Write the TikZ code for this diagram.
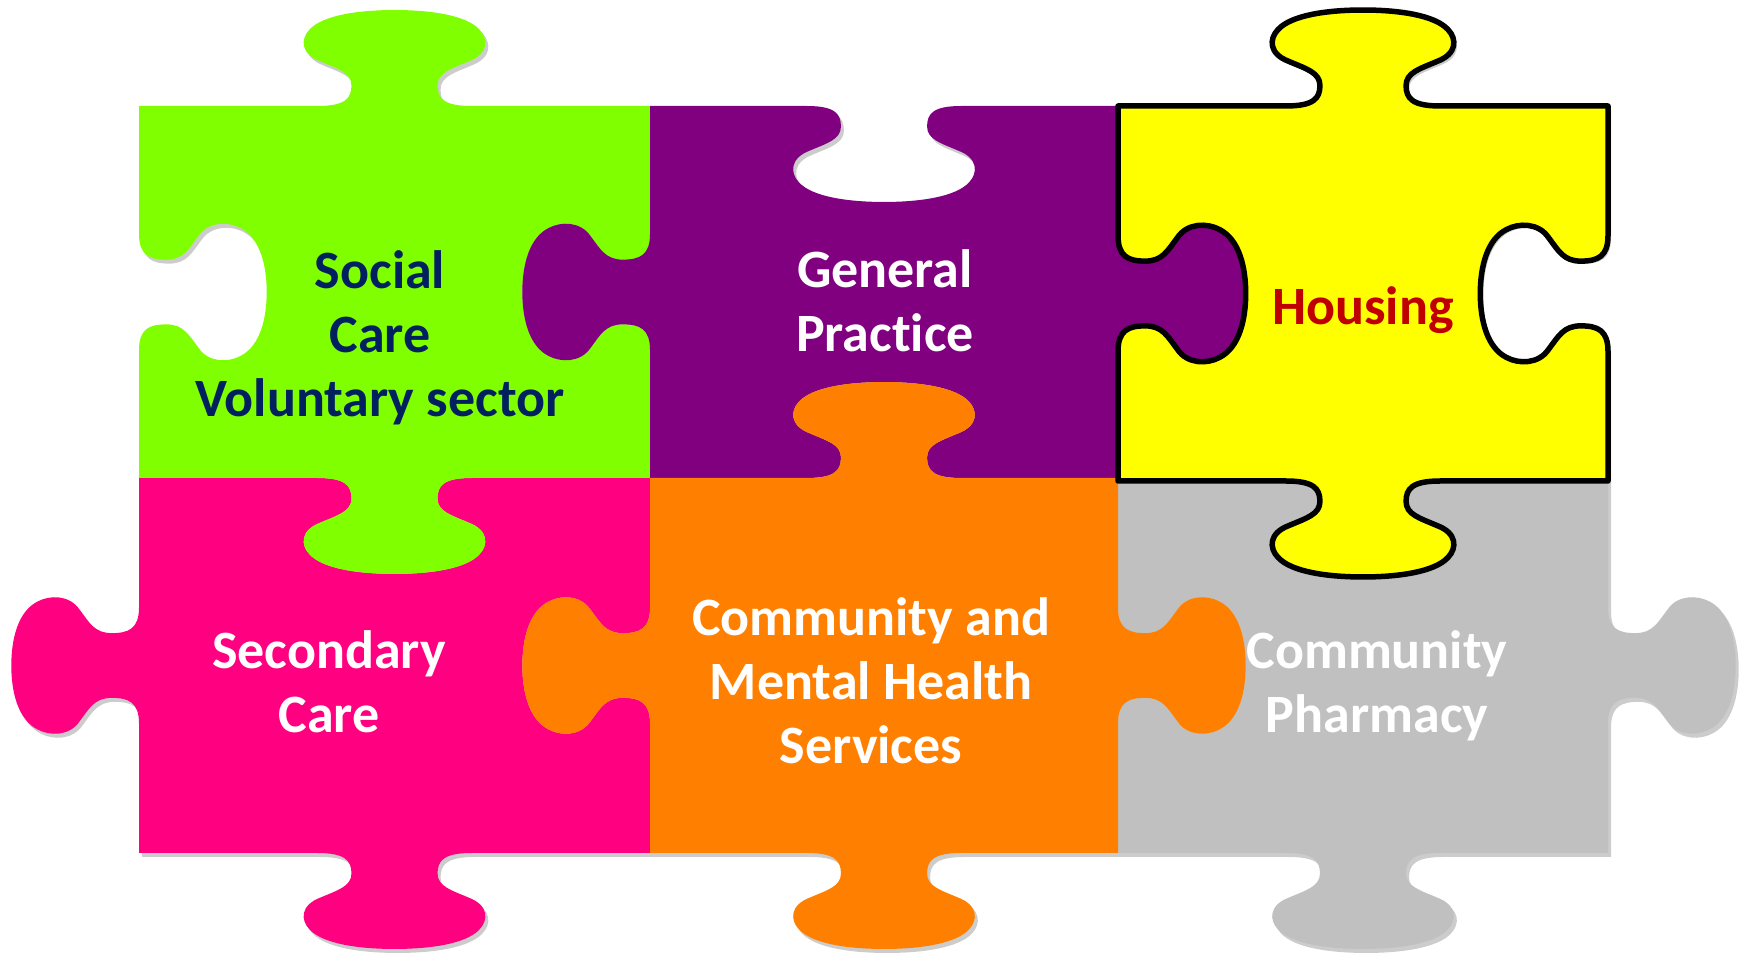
\documentclass[tikz,border=0pt]{standalone}
\usepackage{fontspec}
\setmainfont{Carlito}[RawFeature={-liga;-clig;-calt;-dlig}]

\definecolor{scgreen}{HTML}{80FF00}
\definecolor{gppurple}{HTML}{800080}
\definecolor{hsyellow}{HTML}{FFFF00}
\definecolor{scpink}{HTML}{FF0080}
\definecolor{cmorange}{HTML}{FF8000}
\definecolor{cpgrey}{HTML}{C0C0C0}
\definecolor{scnavy}{HTML}{002060}
\definecolor{hsred}{HTML}{C00000}

% one tab (or blank) on an edge, in its own frame
\newcommand{\knob}[1]{%
  {[#1] -- (-0.156,0)
   .. controls (-0.10,0) and (-0.087,0.02) .. (-0.087,0.055)
   .. controls (-0.087,0.09) and (-0.115,0.10) .. (-0.15,0.12)
   .. controls (-0.19,0.14) and (-0.19,0.18) .. (-0.172,0.205)
   .. controls (-0.145,0.245) and (-0.07,0.258) .. (0,0.258)
   .. controls (0.07,0.258) and (0.145,0.245) .. (0.172,0.205)
   .. controls (0.19,0.18) and (0.19,0.14) .. (0.15,0.12)
   .. controls (0.115,0.10) and (0.087,0.09) .. (0.087,0.055)
   .. controls (0.087,0.02) and (0.10,0) .. (0.156,0)}}

% x0, y0, x1, y1, then bottom, right, top, left (1 tab, -1 blank)
\newcommand{\piece}[8]{%
  (#1,#2)
  \knob{shift={({(#1+#3)/2},#2)}, xscale=495, yscale={-372*(#5)}} -- (#3,#2)
  \knob{shift={(#3,{(#2+#4)/2})}, rotate=90, xscale=372, yscale={-495*(#6)}} -- (#3,#4)
  \knob{shift={({(#1+#3)/2},#4)}, xscale=-495, yscale={372*(#7)}} -- (#1,#4)
  \knob{shift={(#1,{(#2+#4)/2})}, rotate=90, xscale=-372, yscale={495*(#8)}} -- cycle}

\tikzset{
  lbl/.style={font=\bfseries\fontsize{54}{64}\selectfont, align=center, inner sep=0pt},
  shadowfill/.style={fill=black, opacity=0.2},
}

\begin{document}
\begin{tikzpicture}[x=1pt, y=1pt]
  \path[use as bounding box, fill=white] (0,0) rectangle (1748,953);

  % shadow
  \fill[shadowfill, shift={(3,-4)}]
    \piece{139}{475}{650}{847}{1}{-1}{1}{-1}
    \piece{650}{475}{1118}{847}{-1}{1}{-1}{1}
    \piece{1118}{475}{1608}{847}{1}{-1}{1}{-1}
    \piece{139}{100}{650}{475}{1}{-1}{-1}{1}
    \piece{650}{100}{1118}{475}{1}{1}{1}{1}
    \piece{1118}{100}{1608}{475}{1}{1}{-1}{-1};

  % pieces
  \fill[cpgrey]   \piece{1118}{100}{1608}{475}{1}{1}{-1}{-1};
  \fill[scpink]   \piece{139}{100}{650}{475}{1}{-1}{-1}{1};
  \fill[scgreen]  \piece{139}{475}{650}{847}{1}{-1}{1}{-1};
  \fill[gppurple] \piece{650}{475}{1118}{847}{-1}{1}{-1}{1};
  \fill[cmorange] \piece{650}{100}{1118}{475}{1}{1}{1}{1};
  \filldraw[fill=hsyellow, draw=black, line width=5.5pt, line join=round]
    \piece{1118}{472}{1608}{847}{1}{-1}{1}{-1};

  % labels
  \node[lbl, text=scnavy] (social) at (380,615) {Social\\Care\\Voluntary sector};
  \node[lbl, text=white] (gp) at (885,652) {General\\Practice};
  \node[lbl, text=hsred] (housing) at (1363,643) {Housing};
  \node[lbl, text=white] (secondary) at (329,271) {Secondary\\Care};
  \node[lbl, text=white] (cmhs) at (871,272) {Community and\\Mental Health\\Services};
  \node[lbl, text=white] (pharmacy) at (1377,267) {Community\\Pharmacy};
\end{tikzpicture}
\end{document}
